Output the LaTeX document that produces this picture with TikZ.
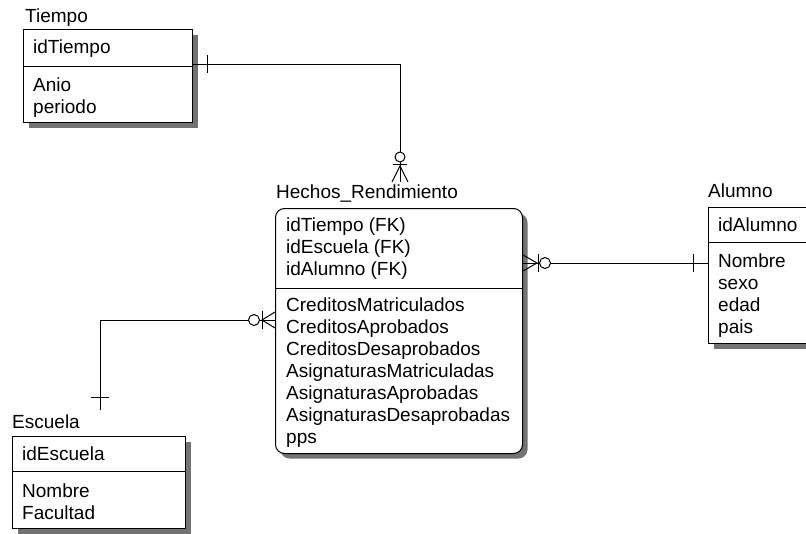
\documentclass[tikz,border=0pt]{standalone}
\usepackage{fontspec}
\setmainfont{Liberation Sans}
\usetikzlibrary{shadows}
\begin{document}
\begin{tikzpicture}[x=1pt,y=-1pt,
  ent/.style={draw=black, line width=1pt, fill=white, inner sep=0pt, anchor=north west,
    drop shadow={shadow xshift=5pt, shadow yshift=-5pt, fill=black!55, opacity=1}},
  txt/.style={anchor=base west, inner sep=0pt, font=\fontsize{19}{22}\selectfont},
  rel/.style={line width=1pt, draw=black},
  opt/.style={line width=1pt, draw=black, fill=white}
]
\useasboundingbox (0,0) rectangle (806,533);
\clip (0,0) rectangle (806,533);

% ---------- Tiempo ----------
\node[ent, minimum width=169pt, minimum height=93pt] (tiempo) at (23,29) {};
\draw[line width=1pt] (tiempo.north west |- 0,66) -- (tiempo.north east |- 0,66);
\node[txt] (tiempoT) at (25,22) {Tiempo};
\node[txt] (tiempoK) at (33,53) {idTiempo};
\foreach \t [count=\i from 0] in {Anio,periodo}
  \node[txt] (tiempoA\i) at (33,91+22*\i) {\t};

% ---------- Hechos_Rendimiento ----------
\node[ent, rounded corners=9pt, minimum width=247pt, minimum height=245pt] (hechos) at (275,208) {};
\draw[line width=1pt] (hechos.north west |- 0,288) -- (hechos.north east |- 0,288);
\node[txt] (hechosT) at (276,198) {Hechos\_Rendimiento};
\foreach \t [count=\i from 0] in {idTiempo (FK),idEscuela (FK),idAlumno (FK)}
  \node[txt] (hechosK\i) at (286,231+22*\i) {\t};
\foreach \t [count=\i from 0] in {CreditosMatriculados,CreditosAprobados,CreditosDesaprobados,AsignaturasMatriculadas,AsignaturasAprobadas,AsignaturasDesaprobadas,pps}
  \node[txt] (hechosA\i) at (286,311+22*\i) {\t};

% ---------- Alumno ----------
\node[ent, minimum width=130pt, minimum height=136pt] (alumno) at (708,207) {};
\draw[line width=1pt] (alumno.north west |- 0,242) -- (alumno.north east |- 0,242);
\node[txt] (alumnoT) at (708,197) {Alumno};
\node[txt] (alumnoK) at (718,231) {idAlumno};
\foreach \t [count=\i from 0] in {Nombre,sexo,edad,pais}
  \node[txt] (alumnoA\i) at (718,267+22*\i) {\t};

% ---------- Escuela ----------
\node[ent, minimum width=173pt, minimum height=92pt] (escuela) at (12,436) {};
\draw[line width=1pt] (escuela.north west |- 0,471) -- (escuela.north east |- 0,471);
\node[txt] (escuelaT) at (12,428) {Escuela};
\node[txt] (escuelaK) at (22,460) {idEscuela};
\foreach \t [count=\i from 0] in {Nombre,Facultad}
  \node[txt] (escuelaA\i) at (22,497+22*\i) {\t};

% ---------- connector ends ----------
\coordinate (hTop) at (400,182);
\coordinate (tRight) at (tiempo.north east |- 0,64);
\coordinate (hLeft) at (hechos.north west |- 0,320);
\coordinate (eTop) at (100,410);
\coordinate (hRight) at (hechos.north east |- 0,263);
\coordinate (aLeft) at (alumno.north west |- 0,263);

% Tiempo -- Hechos
\draw[rel] (tRight) -| (hTop);
\draw[rel] ([shift={(14,-9)}]tRight) -- ([shift={(14,9)}]tRight);
\draw[opt] ([shift={(0,-25)}]hTop) circle (5);
\draw[rel] ([shift={(-7,-18)}]hTop) -- ([shift={(7,-18)}]hTop);
\draw[rel] ([shift={(-8,0)}]hTop) -- ([shift={(0,-16)}]hTop) -- ([shift={(8,0)}]hTop);

% Escuela -- Hechos
\draw[rel] (eTop) |- (hLeft);
\draw[rel] ([shift={(-9,-13)}]eTop) -- ([shift={(9,-13)}]eTop);
\draw[opt] ([shift={(-21,0)}]hLeft) circle (5.5);
\draw[rel] ([shift={(-13,-9)}]hLeft) -- ([shift={(-13,9)}]hLeft);
\draw[rel] ([shift={(0,-8)}]hLeft) -- ([shift={(-13,0)}]hLeft) -- ([shift={(0,8)}]hLeft);

% Hechos -- Alumno
\draw[rel] (hRight) -- (aLeft);
\draw[rel] ([shift={(-15,-9)}]aLeft) -- ([shift={(-15,9)}]aLeft);
\draw[opt] ([shift={(22,0)}]hRight) circle (5.5);
\draw[rel] ([shift={(15,-9)}]hRight) -- ([shift={(15,9)}]hRight);
\draw[rel] ([shift={(0,-8)}]hRight) -- ([shift={(14,0)}]hRight) -- ([shift={(0,8)}]hRight);
\end{tikzpicture}
\end{document}
